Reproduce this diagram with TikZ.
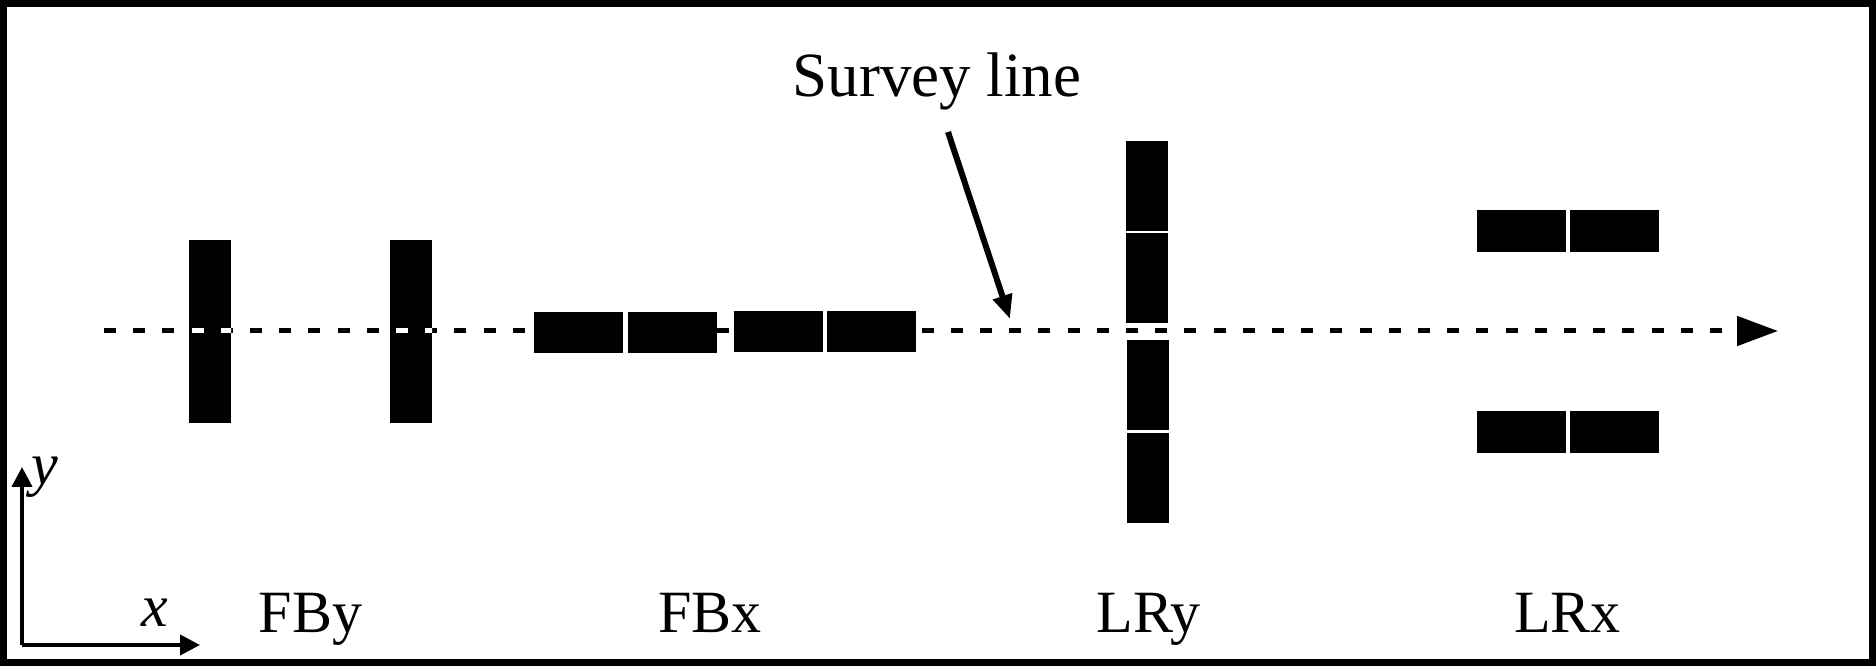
\documentclass[tikz,border=0pt]{standalone}
\usepackage{fontspec}
\setmainfont{Liberation Serif}
\usetikzlibrary{arrows.meta}
\begin{document}
\begin{tikzpicture}[x=0.5pt,y=-0.5pt,
  blk/.style={fill=black,draw=none,inner sep=0pt,outer sep=0pt,rectangle},
  vbar/.style={blk,minimum width=21pt,minimum height=91.5pt},
  hpad/.style={blk,minimum width=44.5pt,minimum height=20.5pt},
  vpad/.style={blk,minimum width=21pt,minimum height=45pt},
  lpad/.style={blk,minimum width=44.5pt,minimum height=21pt},
  lbl/.style={font=\fontsize{30pt}{36pt}\selectfont,inner sep=0pt,anchor=base},
  surveydash/.style={line width=2.5pt,dash pattern=on 6pt off 8.6pt}]
\useasboundingbox (0,0) rectangle (1876,667);
\draw[line width=3.5pt] (3.5,3.5) rectangle (1872,662.5);
% survey line
\coordinate (ls) at (104,331);
\coordinate (le) at (1778,331);
\draw[surveydash,-{Triangle[length=20.5pt,width=14.5pt]}] (ls) -- (le);
% FBy
\node[vbar] (fby1) at (210,331.5) {};
\node[vbar] (fby2) at (411,331.5) {};
\begin{scope}
\clip (fby1.south west) rectangle (fby1.north east) (fby2.south west) rectangle (fby2.north east);
\draw[surveydash,white] (ls) -- (le);
\end{scope}
% FBx
\node[hpad] (fbx1) at (578.5,332.5) {};
\node[hpad] (fbx2) at (672,332.5) {};
\node[hpad] (fbx3) at (778.5,332) {};
\node[hpad] (fbx4) at (871.5,332) {};
% LRy
\node[vpad] (lry1) at (1147,186) {};
\node[vpad] (lry2) at (1147,278.5) {};
\node[vpad] (lry3) at (1148,385.5) {};
\node[vpad] (lry4) at (1148,478.5) {};
% LRx
\node[lpad] (lrx1) at (1521.5,231) {};
\node[lpad] (lrx2) at (1614.5,231) {};
\node[lpad] (lrx3) at (1521.5,432) {};
\node[lpad] (lrx4) at (1614.5,432) {};
% labels
\node[lbl] (tfby) at (310.5,633) {FBy};
\node[lbl] (tfbx) at (710,633) {FBx};
\node[lbl] (tlry) at (1148.5,633) {LRy};
\node[lbl] (tlrx) at (1567.5,633) {LRx};
\node[lbl,font=\fontsize{31.5pt}{38pt}\selectfont] (survey) at (937,97) {Survey line};
\coordinate (sa) at (948,132);
\coordinate (st) at (1010,319);
\draw[line width=3pt,-{Triangle[length=12pt,width=9.5pt]}] (sa) -- (st);
% axes
\coordinate (o) at (22,645);
\coordinate (ytip) at (22,467);
\coordinate (xtip) at (200,645);
\draw[line width=2pt,-{Triangle[length=10pt,width=10pt]}] (o) -- (ytip);
\draw[line width=2pt,-{Triangle[length=10pt,width=10pt]}] (o) -- (xtip);
\node[lbl,anchor=base west,font=\fontsize{30pt}{36pt}\selectfont\itshape] (ylab) at (31,485) {y};
\node[lbl,anchor=base west,font=\fontsize{30pt}{36pt}\selectfont\itshape] (xlab) at (141,627) {x};
\end{tikzpicture}
\end{document}
